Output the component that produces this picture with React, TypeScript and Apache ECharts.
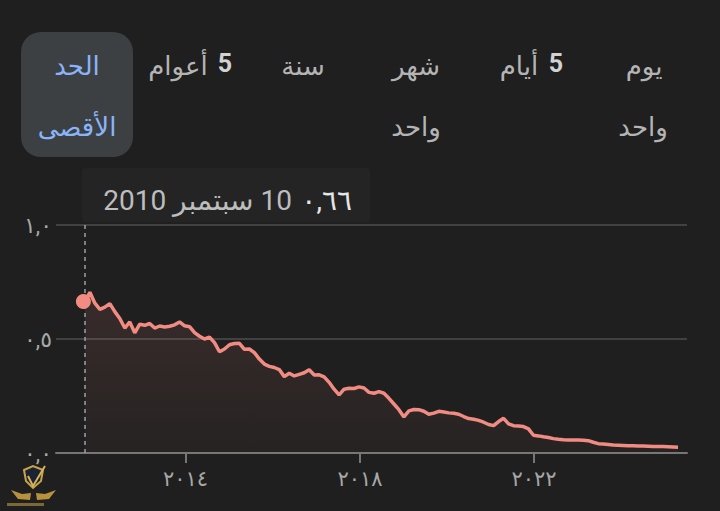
import React, { useEffect, useRef } from "react";
import * as echarts from "echarts";

// Price series (evenly spaced samples, oldest first)
const values: number[] = [
  0.664, 0.705, 0.657, 0.630, 0.640, 0.655, 0.620, 0.590, 0.548, 0.575,
  0.527, 0.565, 0.560, 0.568, 0.548, 0.557, 0.553, 0.556, 0.562, 0.575,
  0.558, 0.554, 0.528, 0.512, 0.500, 0.508, 0.484, 0.444, 0.456, 0.475,
  0.480, 0.481, 0.455, 0.456, 0.440, 0.412, 0.390, 0.380, 0.375, 0.366,
  0.335, 0.350, 0.338, 0.345, 0.352, 0.365, 0.342, 0.343, 0.334, 0.310,
  0.280, 0.255, 0.280, 0.284, 0.283, 0.290, 0.285, 0.266, 0.262, 0.269,
  0.262, 0.240, 0.215, 0.190, 0.158, 0.185, 0.191, 0.190, 0.183, 0.170,
  0.175, 0.183, 0.180, 0.176, 0.174, 0.170, 0.160, 0.151, 0.148, 0.143,
  0.135, 0.125, 0.120, 0.138, 0.152, 0.128, 0.120, 0.118, 0.116, 0.106,
  0.078, 0.075, 0.071, 0.068, 0.063, 0.060, 0.058, 0.057, 0.057, 0.057,
  0.056, 0.054, 0.047, 0.041, 0.039, 0.037, 0.035, 0.034, 0.033, 0.032,
  0.032, 0.031, 0.031, 0.030, 0.029, 0.029, 0.028, 0.027, 0.026, 0.025,
];

const xTickIndex: number[] = [20.2, 55.2, 90.1];
const xTickLabels: string[] = ["٢٠١٤", "٢٠١٨", "٢٠٢٢"];
const yTickLabels: string[] = ["٠,٠", "٠,٥", "١,٠"];

const rangeButtons: string[] = ["يوم", "واحد", "أيام", "شهر", "واحد", "سنة", "أعوام", "الحد", "الأقصى"];
const tooltipValue = "٠,٦٦";
const tooltipDate = "\u200F10 سبتمبر 2010";

const FONT = "Roboto, 'DejaVu Sans', sans-serif";
const GRAY = "#b4b4b4";
const LINE = "#f28b82";
const BG = "#1f1f1f";

export default function App() {
  const ref = useRef<HTMLDivElement>(null);

  useEffect(() => {
    document.body.style.margin = "0";
    document.body.style.background = BG;
    if (!ref.current) return;
    const chart = echarts.init(ref.current, undefined, { renderer: "svg" });

    const txt = (text: string, x: number, y: number, opts: any = {}) => ({
      type: "text",
      x,
      y,
      z: 100,
      style: {
        text,
        fill: opts.fill || GRAY,
        font: `${opts.weight || "normal"} ${opts.size || 26}px ${FONT}`,
        align: opts.align || "center",
        verticalAlign: "middle",
      },
    });

    const option: any = {
      animation: false,
      backgroundColor: BG,
      grid: { left: 56, right: 33, top: 225, bottom: 58 },
      xAxis: {
        type: "value",
        min: -5.8,
        max: 120.8,
        splitLine: { show: false },
        axisLine: { show: true, lineStyle: { color: "#767676", width: 2 } },
        axisTick: {
          show: true,
          customValues: xTickIndex,
          length: 10,
          lineStyle: { color: "#767676", width: 2 },
        },
        axisLabel: {
          customValues: xTickIndex,
          formatter: (v: number) => {
            const k = xTickIndex.findIndex((t) => Math.abs(t - v) < 0.01);
            return k >= 0 ? xTickLabels[k] : "";
          },
          color: "#a8a8a8",
          fontSize: 21,
          fontFamily: FONT,
          margin: 15,
        },
      },
      yAxis: {
        type: "value",
        min: 0,
        max: 1,
        interval: 0.5,
        axisLine: { show: false },
        axisTick: { show: false },
        splitLine: { lineStyle: { color: "#4e4e4e", width: 1.5 } },
        axisLabel: {
          formatter: (v: number) => yTickLabels[Math.round(v / 0.5)],
          color: "#a8a8a8",
          fontSize: 22,
          fontFamily: FONT,
          margin: 4,
        },
      },
      series: [
        {
          type: "line",
          data: values.map((v, i) => [i, v]),
          showSymbol: false,
          lineStyle: { color: LINE, width: 3.5 },
          itemStyle: { color: LINE },
          areaStyle: {
            color: new echarts.graphic.LinearGradient(0, 0, 0, 1, [
              { offset: 0, color: "rgba(242,139,130,0.17)" },
              { offset: 1, color: "rgba(242,139,130,0.05)" },
            ]),
          },
          markLine: {
            silent: true,
            symbol: "none",
            label: { show: false },
            lineStyle: { color: "#9aa0a6", type: [4, 4], width: 1.5 },
            data: [{ xAxis: 0 }],
          },
          markPoint: {
            symbol: "circle",
            symbolSize: 15,
            label: { show: false },
            itemStyle: { color: LINE },
            data: [{ coord: [-0.3, values[0]] }],
          },
        },
      ],
      graphic: [
        // range selector
        {
          type: "rect",
          shape: { x: 21, y: 32, width: 112, height: 125, r: 20 },
          style: { fill: "#3c4043" },
          z: 90,
        },
        txt(rangeButtons[0], 644, 66),
        txt(rangeButtons[1], 643, 127),
        txt(rangeButtons[2], 519, 66),
        txt("5", 556, 63, { weight: "bold", fill: "#d2d2d2", size: 25 }),
        txt(rangeButtons[3], 416, 66),
        txt(rangeButtons[4], 416, 127),
        txt(rangeButtons[5], 303, 66),
        txt(rangeButtons[6], 178, 66),
        txt("5", 225, 63, { weight: "bold", fill: "#d2d2d2", size: 25 }),
        txt(rangeButtons[7], 77, 66, { fill: "#8ab4f8" }),
        txt(rangeButtons[8], 77, 127, { fill: "#8ab4f8" }),
        // hover tooltip
        {
          type: "rect",
          shape: { x: 82, y: 168, width: 288, height: 54, r: 3 },
          style: { fill: "#242424" },
          z: 90,
        },
        txt(tooltipValue, 352, 200, { align: "right", size: 28, fill: "#e6e6e6" }),
        txt(tooltipDate, 292, 200, { align: "right", size: 28, fill: "#bdbdbd" }),
        // watermark logo
        {
          type: "polygon",
          z: 95,
          shape: { points: [[24, 470], [33, 466], [43, 470], [41, 481], [33, 488], [26, 481]] },
          style: { fill: "#1a2333", stroke: "#c9a24a", lineWidth: 2 },
        },
        {
          type: "polyline",
          z: 96,
          shape: { points: [[28, 476], [33, 486], [45, 466]] },
          style: { stroke: "#d8b25a", lineWidth: 2, fill: "none" },
        },
        {
          type: "polygon",
          z: 95,
          shape: { points: [[11, 490], [22, 494], [31, 493], [30, 500], [18, 499]] },
          style: { fill: "#b8913f" },
        },
        {
          type: "polygon",
          z: 95,
          shape: { points: [[56, 490], [45, 494], [36, 493], [37, 500], [49, 499]] },
          style: { fill: "#b8913f" },
        },
        {
          type: "rect",
          z: 95,
          shape: { x: 7, y: 503, width: 37, height: 3 },
          style: { fill: "rgba(201,162,74,0.55)" },
        },
      ],
    };

    chart.setOption(option);
    return () => chart.dispose();
  }, []);

  return (
    <div style={{ position: "fixed", left: 0, top: 0, width: 720, height: 511 }}>
      <div ref={ref} style={{ width: 720, height: 511 }} />
    </div>
  );
}
